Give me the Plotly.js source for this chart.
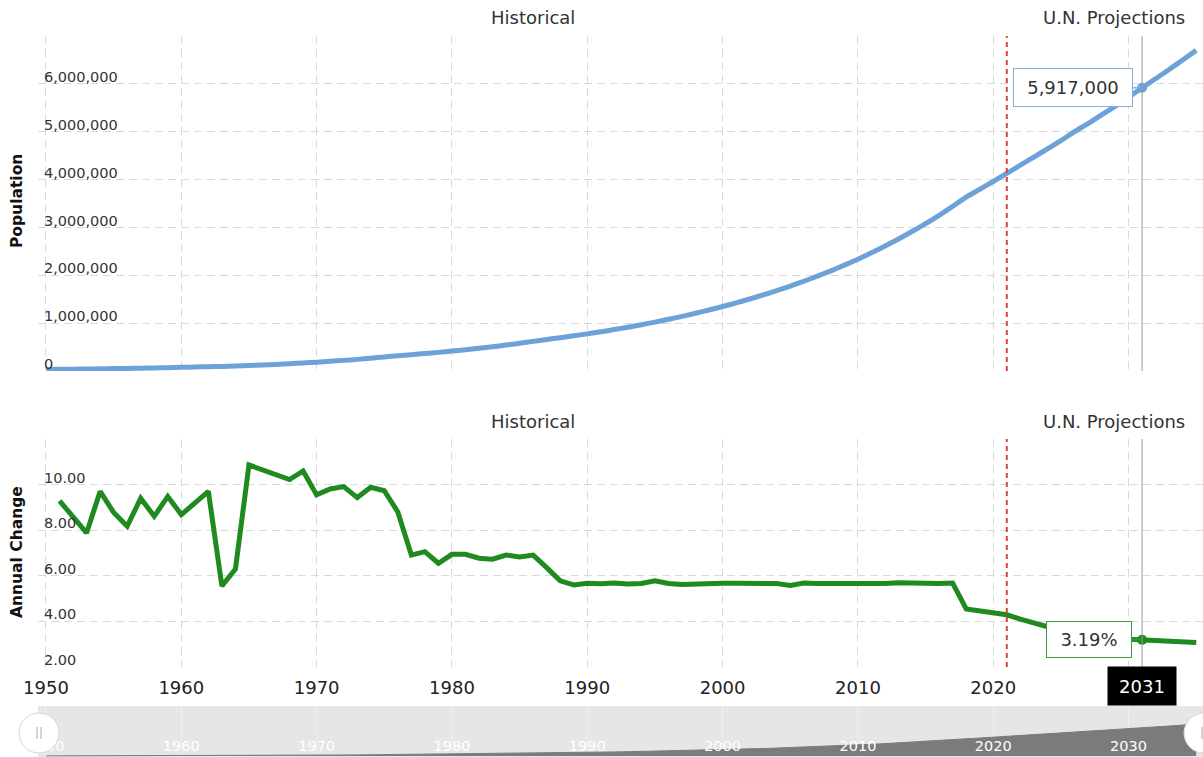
<!DOCTYPE html>
<html>
<head>
<meta charset="utf-8">
<script src="https://cdn.plot.ly/plotly-3.0.1.min.js"></script>
<style>
  html, body { margin: 0; padding: 0; background: #fff; }
  #chart { width: 1203px; height: 757px; }
</style>
</head>
<body>
<div id="chart"></div>
<script>
// ---- data ----
const years = [
  1950, 1951, 1952, 1953, 1954, 1955, 1956, 1957, 1958, 1959,
  1960, 1961, 1962, 1963, 1964, 1965, 1966, 1967, 1968, 1969,
  1970, 1971, 1972, 1973, 1974, 1975, 1976, 1977, 1978, 1979,
  1980, 1981, 1982, 1983, 1984, 1985, 1986, 1987, 1988, 1989,
  1990, 1991, 1992, 1993, 1994, 1995, 1996, 1997, 1998, 1999,
  2000, 2001, 2002, 2003, 2004, 2005, 2006, 2007, 2008, 2009,
  2010, 2011, 2012, 2013, 2014, 2015, 2016, 2017, 2018, 2019,
  2020, 2021, 2022, 2023, 2024, 2025, 2026, 2027, 2028, 2029,
  2030, 2031, 2032, 2033, 2034, 2035
];

const population = [
  33000, 36000, 39000, 42000, 46000, 50000, 54000, 59000, 64000, 70000,
  76000, 83000, 91000, 96000, 102000, 113000, 125000, 138000, 152000, 168000,
  184000, 202000, 222000, 243000, 267000, 293000, 319000, 341000, 365000, 389000,
  416000, 445000, 475000, 507000, 542000, 579000, 619000, 658000, 696000, 735000,
  776000, 820000, 866000, 915000, 967000, 1022000, 1080000, 1141000, 1206000, 1275000,
  1347000, 1423000, 1504000, 1589000, 1679000, 1774000, 1875000, 1981000, 2093000, 2212000,
  2337000, 2470000, 2610000, 2758000, 2914000, 3080000, 3254000, 3439000, 3634000, 3795000,
  3960000, 4130000, 4300000, 4470000, 4640000, 4815000, 5000000, 5170000, 5350000, 5530000,
  5720000, 5917000, 6110000, 6300000, 6500000, 6700000
];

// annual change in percent (no value for the first year)
const annualChange = [
  null, 9.29, 8.60, 7.88, 9.70, 8.78, 8.17, 9.40, 8.61, 9.48,
  8.68, 9.22, 9.70, 5.55, 6.30, 10.86, 10.66, 10.44, 10.22, 10.60,
  9.55, 9.81, 9.91, 9.43, 9.88, 9.73, 8.80, 6.91, 7.06, 6.55,
  6.94, 6.94, 6.77, 6.73, 6.91, 6.83, 6.91, 6.36, 5.78, 5.60,
  5.67, 5.65, 5.68, 5.64, 5.66, 5.78, 5.66, 5.62, 5.65, 5.67,
  5.67, 5.67, 5.66, 5.67, 5.66, 5.58, 5.68, 5.66, 5.66, 5.66,
  5.68, 5.64, 5.66, 5.70, 5.66, 5.67, 5.66, 5.68, 4.55, 4.47,
  4.38, 4.29, 4.10, 3.92, 3.75, 3.60, 3.48, 3.40, 3.33, 3.27,
  3.22, 3.19, 3.16, 3.13, 3.10, 3.07
];

const decadeTicks = [1950, 1960, 1970, 1980, 1990, 2000, 2010, 2020, 2030];
// the 2030 label sits under the crosshair year badge, so it is left blank
const mainYearText = ['1950', '1960', '1970', '1980', '1990', '2000', '2010', '2020', ''];
const navYearText = ['1950', '1960', '1970', '1980', '1990', '2000', '2010', '2020', '2030'];
const popTickVals = [0, 1000000, 2000000, 3000000, 4000000, 5000000, 6000000, 7000000];
const popTickText = ['0', '1,000,000', '2,000,000', '3,000,000', '4,000,000', '5,000,000', '6,000,000', ''];
const changeTickVals = [2, 4, 6, 8, 10, 12];
const changeTickText = ['2.00', '4.00', '6.00', '8.00', '10.00', ''];

const projectionStart = 2021;   // first projected year
const focusYear = 2031;         // year highlighted by the crosshair

// ---- geometry helpers (pixel -> paper) ----
const W = 1203, H = 757;
const px = p => p / W;
const py = p => 1 - p / H;

const xRange = [1949.41, 2035.5];
const xDomain = [px(38), 1];

const blue = '#6ca2d8';
const green = '#1f8a1f';
const grid = '#d9d9d9';
const fontFam = 'DejaVu Sans, Verdana, sans-serif';

const fi = years.indexOf(focusYear);
const focusPop = population[fi];
const focusChange = annualChange[fi];

const traces = [
  {
    x: years, y: population, xaxis: 'x', yaxis: 'y',
    type: 'scatter', mode: 'lines',
    line: { color: blue, width: 5, shape: 'spline', smoothing: 0.6 },
    hoverinfo: 'skip'
  },
  {
    x: [focusYear], y: [focusPop], xaxis: 'x', yaxis: 'y',
    type: 'scatter', mode: 'markers',
    marker: { color: blue, size: 10 }, hoverinfo: 'skip'
  },
  {
    x: years, y: annualChange, xaxis: 'x2', yaxis: 'y2',
    type: 'scatter', mode: 'lines',
    line: { color: green, width: 5 },
    hoverinfo: 'skip'
  },
  {
    x: [focusYear], y: [focusChange], xaxis: 'x2', yaxis: 'y2',
    type: 'scatter', mode: 'markers',
    marker: { color: green, size: 10 }, hoverinfo: 'skip'
  },
  // navigator overview series
  {
    x: years, y: population, xaxis: 'x3', yaxis: 'y3',
    type: 'scatter', mode: 'lines', fill: 'tozeroy',
    fillcolor: '#7b7b7b', line: { color: '#7b7b7b', width: 1 },
    hoverinfo: 'skip'
  }
];

const commonX = {
  range: xRange, domain: xDomain, tickvals: decadeTicks,
  showgrid: true, gridcolor: grid, griddash: '8px,5px', gridwidth: 1,
  zeroline: false, showline: false, ticks: '', fixedrange: true,
  ticklabeloverflow: 'allow'
};

const commonY = {
  ticklabelposition: 'inside', ticklabelshift: -7, ticklabelstandoff: 3,
  ticklabeloverflow: 'allow',
  tickfont: { size: 14.5, color: '#333' },
  showgrid: true, gridcolor: grid, griddash: '8px,5px',
  zeroline: false, showline: false, ticks: '', fixedrange: true
};

function label(text, xref, x, ypx, extra) {
  return Object.assign({
    text: text, xref: xref, yref: 'paper', x: x, y: py(ypx),
    xanchor: 'center', yanchor: 'middle', showarrow: false,
    font: { size: 18, color: '#333' }
  }, extra || {});
}

// navigator handle: white disc with a two-line grip
function handle(cx) {
  const disc = { type: 'circle', xref: 'paper', yref: 'paper', xsizemode: 'pixel', ysizemode: 'pixel',
    xanchor: px(cx), yanchor: py(733), x0: -20, x1: 20, y0: -20, y1: 20,
    fillcolor: '#ffffff', line: { color: '#d6d6d6', width: 1 } };
  const grip = dx => ({ type: 'line', xref: 'paper', yref: 'paper', xsizemode: 'pixel', ysizemode: 'pixel',
    xanchor: px(cx), yanchor: py(733), x0: dx, x1: dx, y0: -6, y1: 6,
    line: { color: '#a8a8a8', width: 1 } });
  return [disc, grip(-2), grip(2)];
}

const layout = {
  width: W, height: H,
  margin: { l: 0, r: 0, t: 0, b: 0 },
  paper_bgcolor: '#ffffff', plot_bgcolor: 'rgba(0,0,0,0)',
  showlegend: false,
  font: { family: fontFam, color: '#333' },
  xaxis: Object.assign({}, commonX, { anchor: 'y', showticklabels: false }),
  yaxis: Object.assign({}, commonY, {
    domain: [py(371), py(36)], range: [0, 7000000], anchor: 'x',
    tickvals: popTickVals, ticktext: popTickText
  }),
  xaxis2: Object.assign({}, commonX, {
    anchor: 'y2', showticklabels: true, ticktext: mainYearText,
    tickfont: { size: 18, color: '#222' }, ticklabelstandoff: 8
  }),
  yaxis2: Object.assign({}, commonY, {
    domain: [py(667), py(439)], range: [2, 12], anchor: 'x2',
    tickvals: changeTickVals, ticktext: changeTickText
  }),
  xaxis3: {
    range: xRange, domain: xDomain, anchor: 'y3', tickvals: decadeTicks, ticktext: navYearText,
    ticklabelposition: 'inside', ticklabeloverflow: 'allow',
    tickfont: { size: 14.5, color: '#ffffff' },
    showgrid: true, gridcolor: 'rgba(255,255,255,0.35)', gridwidth: 1,
    zeroline: false, showline: false, ticks: '', fixedrange: true
  },
  yaxis3: {
    domain: [0, py(706)], range: [-200000, 10500000], anchor: 'x3',
    showgrid: false, showticklabels: false, zeroline: false, showline: false,
    fixedrange: true
  },
  shapes: [
    // navigator background band
    { type: 'rect', xref: 'paper', yref: 'paper', x0: px(38), x1: 1, y0: 0, y1: py(706),
      fillcolor: '#e6e6e6', line: { width: 0 }, layer: 'below' },
    // start of projections
    { type: 'line', xref: 'x', yref: 'y domain', x0: projectionStart, x1: projectionStart, y0: 0, y1: 1,
      line: { color: '#d8433b', width: 2, dash: '5px,4px' } },
    { type: 'line', xref: 'x2', yref: 'y2 domain', x0: projectionStart, x1: projectionStart, y0: 0, y1: 1,
      line: { color: '#d8433b', width: 2, dash: '5px,4px' } },
    // crosshair
    { type: 'line', xref: 'x', yref: 'y domain', x0: focusYear, x1: focusYear, y0: 0, y1: 1,
      line: { color: '#999', width: 1 } },
    { type: 'line', xref: 'x2', yref: 'y2 domain', x0: focusYear, x1: focusYear, y0: 0, y1: 1,
      line: { color: '#999', width: 1 } }
  ].concat(handle(39), handle(1204)),
  annotations: [
    label('Historical', 'x', 1986, 18),
    label('U.N. Projections', 'x', 2028.9, 18),
    label('Historical', 'x2', 1986, 421),
    label('U.N. Projections', 'x2', 2028.9, 421),
    label('<b>Population</b>', 'paper', px(17), 201,
      { textangle: -90, font: { size: 15.5, color: '#111' } }),
    label('<b>Annual Change</b>', 'paper', px(17), 552,
      { textangle: -90, font: { size: 15.5, color: '#111' } }),
    // value callouts at the crosshair
    { text: focusPop.toLocaleString('en-US'), xref: 'x', yref: 'y', x: focusYear, y: focusPop,
      ax: -69, ay: 0, showarrow: true, arrowhead: 0, arrowwidth: 1.5, arrowcolor: '#7fb0e0', standoff: 2,
      bgcolor: '#ffffff', bordercolor: '#7fb0e0', borderwidth: 1, borderpad: 3,
      width: 112, height: 31, font: { size: 18, color: '#333' } },
    { text: focusChange.toFixed(2) + '%', xref: 'x2', yref: 'y2', x: focusYear, y: focusChange,
      ax: -53, ay: 0, showarrow: true, arrowhead: 0, arrowwidth: 1.5, arrowcolor: '#3c9a3c', standoff: 2,
      bgcolor: '#ffffff', bordercolor: '#3c9a3c', borderwidth: 1, borderpad: 3,
      width: 78, height: 29, font: { size: 18, color: '#333' } },
    label(String(focusYear), 'x2', focusYear, 686,
      { bgcolor: '#000000', borderpad: 4, width: 60, height: 30, font: { size: 18, color: '#ffffff' } })
  ]
};

Plotly.newPlot('chart', traces, layout, { displayModeBar: false, staticPlot: true });
</script>
</body>
</html>
